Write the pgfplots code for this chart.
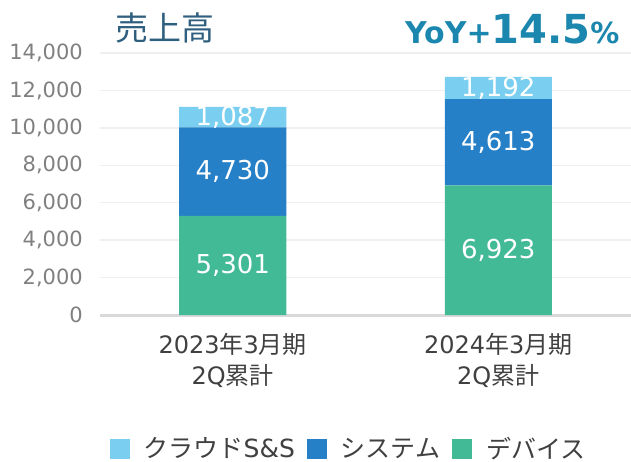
\documentclass[border=0pt]{standalone}
\usepackage{pgfplots}
\pgfplotsset{compat=1.18}
\usepackage{pgfplotstable}
\usepackage{fontspec}
\setmainfont{DejaVu Sans}
\newfontfamily\cjk{Noto Sans CJK JP}
\definecolor{cloud}{HTML}{7ACFF0}
\definecolor{sys}{HTML}{2680C8}
\definecolor{dev}{HTML}{43BA96}
\definecolor{titlec}{HTML}{2F5F7F}
\definecolor{yoyc}{HTML}{1B86AE}
\definecolor{tickc}{HTML}{808080}
\definecolor{labc}{HTML}{404040}
\definecolor{gridc}{HTML}{EFEFEF}
\definecolor{axc}{HTML}{D9D9D9}

\pgfplotstableread{
x dev sys cloud
0 5301 4730 1087
1 6923 4613 1192
}\sales

% label positions: middle of each stacked segment
\pgfplotstableread{
x y label
0 2650.5 5,301
0 7666 4,730
0 10574.5 1,087
1 3461.5 6,923
1 9229.5 4,613
1 12132 1,192
}\labels

\begin{document}
\begin{tikzpicture}
\useasboundingbox (-100bp,-147bp) rectangle (531bp,315bp);
\begin{axis}[
  at={(0,0)}, anchor=south west,
  scale only axis, width=531bp, height=262bp,
  ybar stacked, bar width=107bp,
  xmin=-0.5, xmax=1.5, ymin=0, ymax=14000,
  xtick={0,1},
  xticklabels={{2023{\cjk 年}3{\cjk 月期}\\2Q{\cjk 累計}},{2024{\cjk 年}3{\cjk 月期}\\2Q{\cjk 累計}}},
  xticklabel style={align=center, inner sep=0pt, yshift=-18bp,
    font=\fontsize{24bp}{31bp}\selectfont, text=labc},
  ytick={0,2000,...,14000},
  yticklabel style={inner sep=0pt, xshift=-17bp,
    font=\fontsize{21bp}{24bp}\selectfont, text=tickc},
  /pgf/number format/assume math mode=true,
  /pgf/number format/1000 sep={,},
  scaled y ticks=false,
  ymajorgrids, grid style={draw=gridc, line width=1.5bp},
  axis x line*=bottom, axis y line*=left,
  x axis line style={draw=axc, line width=3bp, -},
  y axis line style={draw=none},
  major tick length=0pt,
  legend style={at={(0.468,-0.51)}, anchor=center, draw=none,
    legend columns=3, font=\fontsize{25bp}{27bp}\selectfont, text=labc,
    /tikz/every odd column/.append style={column sep=12bp},
    /tikz/every even column/.append style={column sep=10bp}},
  legend image code/.code={\fill[#1] (0bp,-10bp) rectangle (20bp,10bp);},
]
\addlegendimage{fill=cloud, draw=none}
\addlegendentry{{\cjk クラウド}S\&S}
\addlegendimage{fill=sys, draw=none}
\addlegendentry{{\cjk システム}}
\addlegendimage{fill=dev, draw=none}
\addlegendentry{{\cjk デバイス}}
\addplot[fill=dev, draw=none, forget plot] table[x=x, y=dev]{\sales};
\addplot[fill=sys, draw=none, forget plot] table[x=x, y=sys]{\sales};
\addplot[fill=cloud, draw=none, forget plot] table[x=x, y=cloud]{\sales};
\end{axis}
\begin{axis}[
  at={(0,0)}, anchor=south west,
  scale only axis, width=531bp, height=262bp,
  xmin=-0.5, xmax=1.5, ymin=0, ymax=14000,
  hide axis, clip=false,
]
\addplot[draw=none, mark=none, nodes near coords, point meta=explicit symbolic,
  every node near coord/.append style={anchor=center, text=white,
    font=\fontsize{26bp}{30bp}\selectfont}]
  table[x=x, y=y, meta=label]{\labels};
\end{axis}
\node[anchor=west, inner sep=0pt, text=titlec, font=\cjk\fontsize{33bp}{36bp}\selectfont]
  at (15bp,287bp) {売上高};
\node[anchor=base west, inner sep=0pt, text=yoyc]
  at (305bp,271bp) {\bfseries\fontsize{30bp}{34bp}\selectfont YoY+\fontsize{40bp}{44bp}\selectfont 14.5\fontsize{29bp}{34bp}\selectfont \%};
\end{tikzpicture}
\end{document}
